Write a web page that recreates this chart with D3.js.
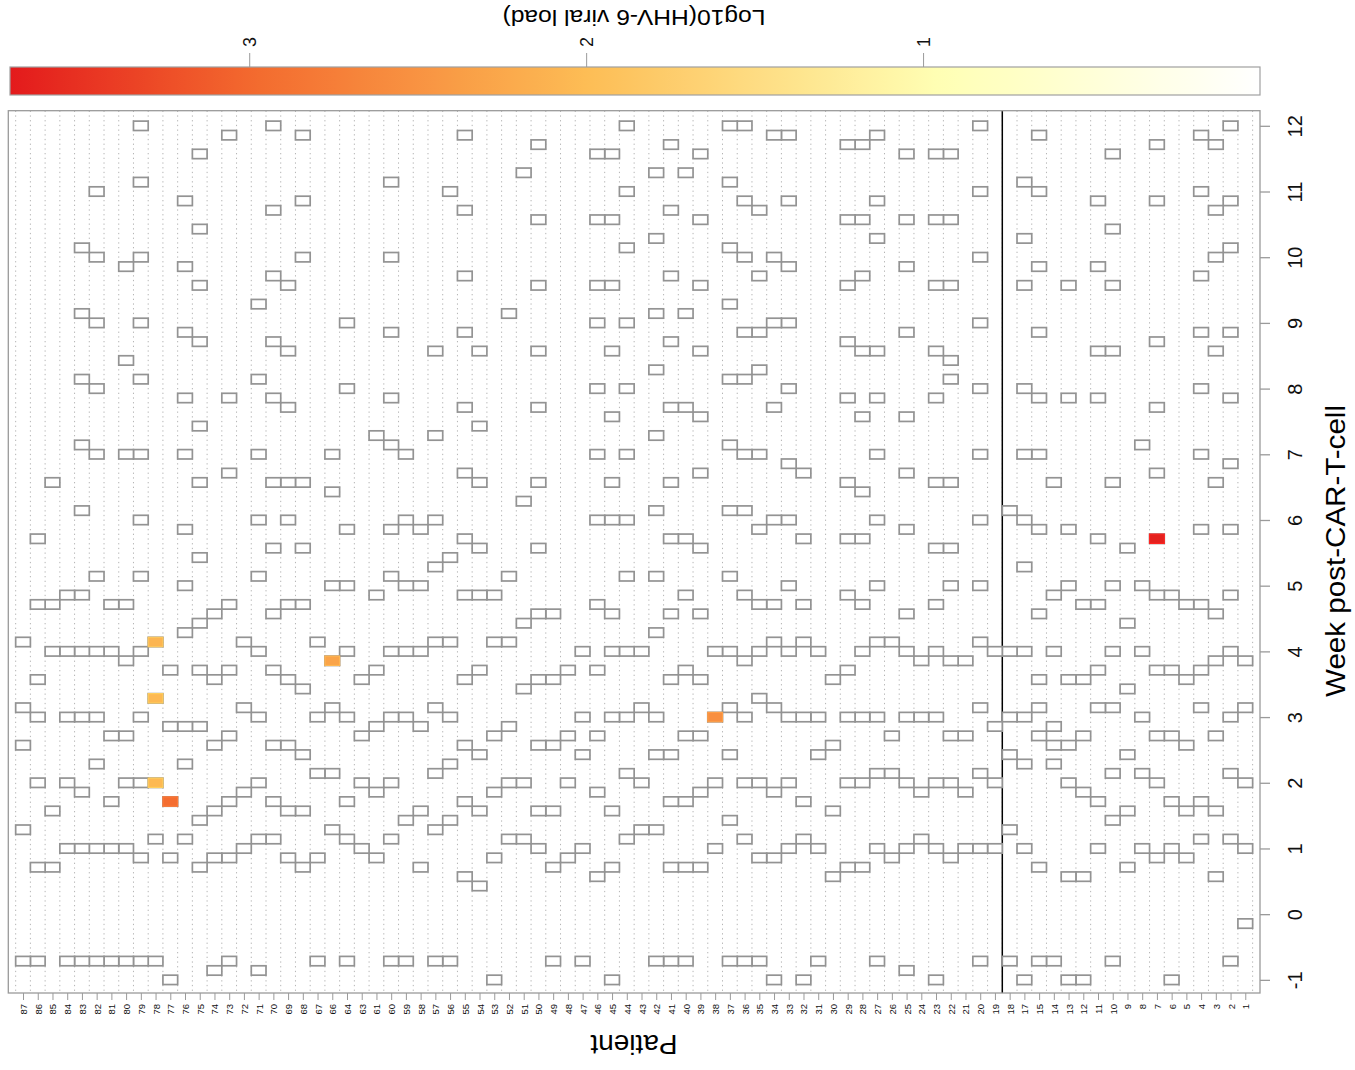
<!DOCTYPE html>
<html>
<head>
<meta charset="utf-8">
<script src="https://cdn.jsdelivr.net/npm/d3@7"></script>
<style>
  body { margin: 0; background: #fff; }
  svg text { font-family: "Liberation Sans", Arial, sans-serif; }
</style>
</head>
<body>
<div id="chart"></div>
<script>
// patient ids in plotting order (16, 62 and 65 are absent)
const patientIds = [1,2,3,4,5,6,7,8,9,10,11,12,13,14,15,17,18,
  19,20,21,22,23,24,25,26,27,28,29,30,31,32,33,34,35,36,37,38,39,40,41,42,43,44,45,46,47,48,49,50,
  51,52,53,54,55,56,57,58,59,60,61,63,64,66,67,68,69,70,71,72,73,74,75,76,77,78,79,80,81,82,83,84,85,86,87];

// sampling days post infusion, patients 1-18
const daysCohortA = [
  [-1, 7, 14, 22, 27],
  [-5, 8, 15, 21, 28, 34, 41, 48, 55, 62, 71, 76, 84],
  [4, 11, 19, 27, 32, 46, 60, 70, 75, 82],
  [8, 12, 22, 26, 33, 41, 49, 56, 62, 68, 77, 83],
  [6, 11, 18, 25, 33],
  [-7, 7, 12, 19, 26, 34],
  [6, 14, 19, 26, 34, 40, 47, 54, 61, 76, 82],
  [7, 15, 21, 28, 35, 50],
  [5, 11, 17, 24, 31, 39],
  [-5, 10, 15, 22, 28, 35, 46, 60, 67, 73, 81],
  [7, 12, 22, 26, 33, 40, 55, 60, 69, 76],
  [-7, 4, 13, 19, 25, 33],
  [-7, 4, 14, 18, 25, 35, 41, 55, 67],
  [-5, 16, 18, 20, 28, 34, 46],
  [-5, 5, 19, 22, 25, 32, 41, 49, 55, 62, 69, 77, 83],
  [-7, 7, 16, 21, 28, 37, 42, 49, 56, 67, 72, 78],
  [-5, 9, 17, 21, 28, 43]
];

// sampling days post infusion, patients 19-87
const daysCohortB = [
  [7, 14, 20, 28],
  [-5, 7, 15, 22, 29, 35, 42, 49, 56, 63, 70, 77, 84],
  [7, 13, 19, 27],
  [6, 14, 19, 27, 35, 39, 46, 57, 59, 67, 74, 81],
  [-7, 7, 14, 21, 28, 33, 39, 46, 55, 60, 67, 74, 81],
  [8, 13, 21, 27],
  [-6, 7, 14, 21, 28, 32, 41, 47, 53, 62, 69, 74, 81],
  [6, 15, 19, 29],
  [-5, 7, 15, 21, 29, 35, 42, 49, 55, 60, 72, 76, 83],
  [5, 14, 21, 28, 33, 40, 45, 53, 60, 68, 74, 82],
  [5, 14, 21, 26, 34, 40, 46, 55, 61, 67, 74, 82],
  [4, 11, 18, 25],
  [-5, 7, 17, 21, 28],
  [-7, 8, 12, 21, 29, 33, 40, 47],
  [7, 14, 21, 28, 35, 42, 48, 56, 63, 69, 76, 83],
  [-7, 6, 13, 22, 29, 33, 42, 54, 63, 70, 83],
  [-5, 6, 14, 23, 28, 33, 41, 49, 58, 62, 68, 75],
  [-5, 8, 14, 21, 27, 34, 43, 49, 57, 62, 70, 76, 84],
  [-5, 10, 17, 22, 28, 36, 43, 50, 57, 65, 71, 78, 84],
  [7, 14, 21, 28],
  [5, 13, 19, 25, 32, 39, 47, 53, 60, 67, 74, 81],
  [-5, 5, 12, 19, 26, 34, 40, 54, 64, 79],
  [-5, 5, 12, 17, 25, 32, 40, 46, 54, 61, 68, 75, 82],
  [-5, 9, 17, 21, 30, 36, 43, 51, 58, 64, 72, 79],
  [9, 14, 22, 28],
  [8, 15, 21, 28, 36, 42, 49, 56, 63, 71, 77, 84],
  [-7, 5, 11, 21, 28, 32, 42, 46, 53, 60, 67, 74, 81],
  [4, 13, 19, 26, 33, 42, 49, 56, 63, 67, 74, 81],
  [-5, 7, 17, 21, 28],
  [6, 14, 19, 26],
  [-5, 5, 11, 18, 25, 32],
  [7, 11, 18, 25, 32, 39, 46, 54, 60, 67, 74, 82],
  [8, 14, 24, 31, 44, 79],
  [8, 14, 20, 29, 36, 64],
  [-7, 6, 13, 19, 29, 34],
  [3, 11, 17, 26, 34, 39, 46, 52, 60],
  [4, 12, 18, 25, 34, 40, 47, 54, 62, 68, 75, 83],
  [-5, 10, 16, 21, 29, 38, 77],
  [-5, 9, 15, 22, 29, 37, 42, 51, 60],
  [5, 11, 20, 28, 35, 41],
  [-5, 10, 21, 28, 35, 42, 49],
  [-5, 8, 14, 21, 28, 36, 41, 50, 55, 62, 70, 78],
  [6, 13, 20, 26, 34, 51],
  [7, 14, 19, 25],
  [-5, 8, 12, 21, 28, 35, 41, 56, 63],
  [9, 15, 22, 27, 35, 45, 49],
  [-5, 6, 15, 21, 29],
  [5, 11, 17, 24, 33, 39, 46, 70, 76, 83],
  [6, 11, 18, 25, 33, 42, 46, 54, 60, 67],
  [8, 12, 18, 26, 32, 39, 46, 55, 61, 68, 75, 84],
  [-6, 8, 14, 21, 28, 36, 42, 49, 57, 65],
  [7, 13, 22, 29],
  [-5, 6, 12, 19, 26, 33, 47, 55, 83],
  [-6, 6, 11, 18, 25, 32],
  [5, 10, 20, 26, 31, 38, 46, 52, 61, 67, 73, 81],
  [8, 16, 20, 30, 35, 41, 49, 55, 62, 69, 76],
  [-7, 6, 12, 20, 26],
  [-5, 8, 14, 23, 29],
  [-5, 6, 14, 21, 28, 36, 42, 49, 57, 63, 70, 78, 84],
  [-5, 7, 14, 19, 27, 33, 49, 59, 69],
  [-5, 7, 12, 19, 28, 33],
  [-5, 7, 16, 21, 28, 36, 49, 56, 63, 70, 77],
  [-5, 7, 13, 21, 28, 34, 43, 50, 57, 64, 71],
  [-5, 7, 14, 21, 28, 34],
  [5, 11, 28, 33, 46],
  [-5, 5, 14, 21, 25, 33, 40],
  [-5, 9, 18, 22, 29]
];

// detected samples: patient, day, log10 load
const positivePatients = [78, 78, 78, 77, 66, 38, 7];
const positiveDays = [14, 23, 29, 12, 27, 21, 40];
const positiveLoads = [2.05, 2.05, 2.1, 2.95, 2.3, 2.55, 3.65];

const weekTicks = [-1, 0, 1, 2, 3, 4, 5, 6, 7, 8, 9, 10, 11, 12];
const loadTicks = [1, 2, 3];
const loadMax = 3.71;

const width = 1355;
const height = 1070;
const frame = { left: 8.3, right: 1260, top: 110.7, bottom: 993 };

const svg = d3.select('#chart')
  .append('svg')
  .attr('width', width)
  .attr('height', height);

// scales
const xScale = d3.scaleLinear().domain([0, patientIds.length + 1]).range([frame.right, frame.left]);
const yScale = d3.scaleLinear().domain([-1.2, 12.23]).range([frame.bottom, frame.top]);
const colour = d3.scaleLinear()
  .domain([0, 0.95, 2, 3, loadMax])
  .range(['#ffffff', '#ffffb4', '#fdbd55', '#f3692e', '#e31a1c']);

// flatten samples
const allDays = daysCohortA.concat(daysCohortB);
const samples = [];
allDays.forEach((days, i) => {
  days.forEach(d => samples.push({ idx: i + 1, patient: patientIds[i], day: d }));
});
const positives = positivePatients.map((p, i) => ({
  idx: patientIds.indexOf(p) + 1, patient: p, day: positiveDays[i], load: positiveLoads[i]
}));

// dotted column guides
svg.append('g')
  .selectAll('line')
  .data(d3.range(0, patientIds.length + 1))
  .enter()
  .append('line')
  .attr('x1', i => xScale(i + 0.5))
  .attr('x2', i => xScale(i + 0.5))
  .attr('y1', frame.top)
  .attr('y2', frame.bottom)
  .attr('stroke', '#b4b4b4')
  .attr('stroke-width', 1)
  .attr('stroke-dasharray', '1.3,3.4');

// cohort separator
svg.append('line')
  .attr('x1', xScale(daysCohortA.length + 0.5))
  .attr('x2', xScale(daysCohortA.length + 0.5))
  .attr('y1', frame.top)
  .attr('y2', frame.bottom)
  .attr('stroke', '#000')
  .attr('stroke-width', 1.5);

const cellX = d => xScale(d.idx + 0.5);
const cellW = d => xScale(d.idx - 0.5) - xScale(d.idx + 0.5);
const cellY = d => yScale((d.day + 0.5) / 7);
const cellH = d => yScale((d.day - 0.5) / 7) - yScale((d.day + 0.5) / 7);

// all samples
svg.append('g')
  .selectAll('rect')
  .data(samples)
  .enter()
  .append('rect')
  .attr('x', cellX)
  .attr('y', cellY)
  .attr('width', cellW)
  .attr('height', cellH)
  .attr('fill', '#fff')
  .attr('stroke', '#939393')
  .attr('stroke-width', 1.7);

// positive samples
svg.append('g')
  .selectAll('rect')
  .data(positives)
  .enter()
  .append('rect')
  .attr('x', cellX)
  .attr('y', cellY)
  .attr('width', cellW)
  .attr('height', cellH)
  .attr('fill', d => colour(d.load))
  .attr('stroke', d => d3.color(colour(d.load)).brighter(0.3))
  .attr('stroke-width', 1.2);

// frame
svg.append('rect')
  .attr('x', frame.left)
  .attr('y', frame.top)
  .attr('width', frame.right - frame.left)
  .attr('height', frame.bottom - frame.top)
  .attr('fill', 'none')
  .attr('stroke', '#9a9a9a')
  .attr('stroke-width', 1.3);

// week axis (right)
const weekAxis = svg.append('g')
  .attr('transform', `translate(${frame.right},0)`)
  .call(d3.axisRight(yScale).tickValues(weekTicks).tickSize(10).tickFormat(d => String(d)));
weekAxis.select('.domain').remove();
weekAxis.selectAll('line').attr('stroke', '#9a9a9a').attr('stroke-width', 1.3);
weekAxis.selectAll('text')
  .attr('x', null)
  .attr('dy', null)
  .attr('transform', 'translate(35,0) rotate(-90)')
  .attr('text-anchor', 'middle')
  .attr('dominant-baseline', 'central')
  .attr('font-size', 20)
  .attr('font-family', '"Liberation Sans", Arial, sans-serif')
  .attr('fill', '#111');

// patient axis (bottom)
const patientAxis = svg.append('g')
  .attr('transform', `translate(0,${frame.bottom})`)
  .call(d3.axisBottom(xScale).tickValues(d3.range(1, patientIds.length + 1))
    .tickSize(7).tickFormat(i => patientIds[i - 1]));
patientAxis.select('.domain').remove();
patientAxis.selectAll('line').attr('stroke', '#9a9a9a');
patientAxis.selectAll('text')
  .attr('y', null)
  .attr('dy', null)
  .attr('transform', 'translate(0,11) rotate(-90)')
  .attr('text-anchor', 'end')
  .attr('dominant-baseline', 'central')
  .attr('font-size', 9.5)
  .attr('font-family', '"Liberation Sans", Arial, sans-serif')
  .attr('fill', '#111');

// axis titles
svg.append('text')
  .attr('transform', 'translate(1336,551) rotate(-90)')
  .attr('text-anchor', 'middle')
  .attr('dominant-baseline', 'central')
  .attr('font-size', 27)
  .attr('textLength', 292)
  .attr('lengthAdjust', 'spacingAndGlyphs')
  .text('Week post-CAR-T-cell');

svg.append('text')
  .attr('transform', 'translate(634,1044) rotate(180)')
  .attr('text-anchor', 'middle')
  .attr('dominant-baseline', 'central')
  .attr('font-size', 28)
  .text('Patient');

// colour bar
const barScale = d3.scaleLinear().domain([0, loadMax]).range([frame.right, 10]);
const grad = svg.append('defs').append('linearGradient')
  .attr('id', 'loadGrad')
  .attr('x1', '0%').attr('x2', '100%').attr('y1', '0%').attr('y2', '0%');
grad.selectAll('stop')
  .data(d3.range(0, 1.0001, 0.02))
  .enter()
  .append('stop')
  .attr('offset', t => (t * 100) + '%')
  .attr('stop-color', t => colour(loadMax * (1 - t)));

svg.append('rect')
  .attr('x', barScale(loadMax))
  .attr('y', 67)
  .attr('width', barScale(0) - barScale(loadMax))
  .attr('height', 28)
  .attr('fill', 'url(#loadGrad)')
  .attr('stroke', '#a0a0a0')
  .attr('stroke-width', 1.2);

const barAxis = svg.append('g')
  .attr('transform', 'translate(0,67)')
  .call(d3.axisTop(barScale).tickValues(loadTicks).tickSize(14).tickFormat(d => String(d)));
barAxis.select('.domain').remove();
barAxis.selectAll('line').attr('stroke', '#9a9a9a');
barAxis.selectAll('text')
  .attr('y', null)
  .attr('dy', null)
  .attr('transform', 'translate(0,-25) rotate(-90)')
  .attr('text-anchor', 'middle')
  .attr('dominant-baseline', 'central')
  .attr('font-size', 18)
  .attr('font-family', '"Liberation Sans", Arial, sans-serif')
  .attr('fill', '#111');

svg.append('text')
  .attr('transform', 'translate(634,17) rotate(180)')
  .attr('text-anchor', 'middle')
  .attr('dominant-baseline', 'central')
  .attr('font-size', 22)
  .attr('textLength', 263)
  .attr('lengthAdjust', 'spacingAndGlyphs')
  .text('Log10(HHV-6 viral load)');
</script>
</body>
</html>
